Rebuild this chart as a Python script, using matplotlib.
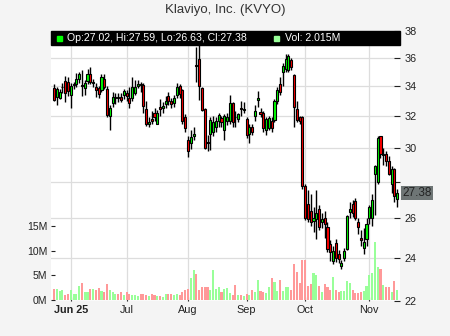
#!/usr/bin/env python3

import matplotlib
matplotlib.use('Agg')
import matplotlib.pyplot as plt
import matplotlib.ticker
import matplotlib.transforms
from matplotlib.patches import Rectangle

TITLE = 'Klaviyo, Inc. (KVYO)'

# daily OHLC, 22 May - 17 Nov 2025 (trading days only)
OPEN = [
    33.85, 33.25, 33.2, 33.9, 34.35, 34.3, 33.4, 34.05, 34.1, 34.45,
    34.05, 33.85, 34.35, 34.85, 34.2, 33.9, 33.85, 33.7, 34.5, 33.8,
    32.0, 32.85, 33.2, 33.25, 33.25, 33.4, 33.5, 33.2, 33.2, 33.55,
    34.0, 34.15, 34.05, 32.45, 31.45, 31.8, 32.2, 31.5, 32.55, 32.5,
    32.75, 33.3, 32.95, 32.85, 33.35, 34.0, 33.7, 31.95, 30.5, 30.3,
    30.75, 35.5, 35.9, 33.85, 32.45, 30.35, 30.85, 30.95, 31.3, 31.65,
    31.85, 31.1, 31.7, 31.65, 32.85, 31.95, 31.8, 32.5, 32.4, 31.8,
    30.85, 31.3, 32.0, 33.05, 32.25, 32.2, 31.1, 31.25, 31.7, 31.75,
    33.0, 34.1, 35.0, 35.2, 35.1, 35.85, 34.75, 32.45, 31.95, 31.9,
    27.75, 26.75, 26.4, 25.85, 25.95, 26.5, 25.8, 26.0, 25.55, 24.7,
    23.85, 24.75, 24.2, 23.6, 24.0, 24.45, 26.35, 26.8, 26.95, 25.8,
    25.0, 24.5, 24.95, 26.05, 26.05, 28.45, 28.0, 30.7, 29.55, 29.6,
    29.2, 27.9, 28.75, 27.02]

HIGH = [
    34.1, 33.95, 33.8, 34.2, 34.7, 34.6, 34.2, 34.3, 34.9, 35.0,
    35.1, 34.4, 35.2, 35.3, 34.5, 34.2, 34.0, 34.8, 34.8, 34.0,
    32.7, 33.6, 33.5, 33.5, 33.5, 33.8, 33.7, 33.95, 34.65, 34.4,
    34.4, 34.3, 34.2, 33.0, 31.9, 32.3, 32.5, 32.4, 33.1, 32.9,
    33.3, 33.6, 33.2, 33.4, 34.2, 34.1, 33.8, 32.1, 30.7, 31.1,
    31.3, 36.8, 37.0, 33.9, 32.5, 30.8, 31.9, 32.0, 31.9, 32.2,
    32.0, 32.1, 32.2, 33.4, 32.9, 32.3, 32.2, 33.0, 32.9, 31.9,
    31.5, 31.5, 32.7, 33.65, 32.5, 32.3, 31.9, 32.0, 31.9, 33.1,
    33.9, 34.6, 35.6, 36.3, 36.3, 36.0, 34.8, 33.0, 32.0, 32.0,
    27.9, 27.55, 27.3, 26.6, 27.55, 26.7, 26.3, 26.4, 25.8, 24.9,
    24.6, 24.95, 24.4, 23.9, 24.5, 26.2, 26.9, 27.0, 27.1, 26.0,
    25.4, 25.5, 26.0, 26.7, 27.3, 29.0, 30.75, 30.75, 30.0, 29.8,
    29.5, 28.9, 28.8, 27.59]

LOW = [
    33.0, 32.7, 33.1, 33.5, 32.9, 33.3, 32.5, 33.8, 33.9, 34.2,
    33.3, 33.4, 34.1, 34.1, 33.9, 33.25, 33.2, 33.6, 33.8, 31.9,
    31.1, 32.6, 32.8, 32.9, 32.9, 33.1, 33.0, 32.5, 33.0, 33.4,
    33.85, 33.6, 32.2, 31.35, 31.3, 31.5, 31.7, 31.45, 32.0, 32.2,
    32.5, 32.7, 32.5, 32.6, 33.2, 33.2, 31.5, 30.95, 29.45, 29.9,
    30.5, 34.3, 33.05, 32.3, 29.9, 29.8, 29.85, 30.7, 31.0, 31.3,
    31.3, 30.5, 31.4, 31.5, 31.3, 31.3, 31.6, 32.0, 32.2, 30.6,
    30.3, 30.8, 31.7, 32.6, 31.9, 31.0, 30.8, 31.1, 31.0, 31.6,
    32.8, 33.4, 34.0, 35.0, 35.0, 35.1, 31.3, 31.6, 31.5, 27.6,
    25.9, 25.8, 25.6, 25.3, 24.95, 25.4, 25.5, 25.0, 24.3, 23.85,
    23.7, 23.8, 23.75, 23.45, 23.85, 24.4, 26.0, 26.1, 25.9, 25.2,
    24.6, 24.2, 24.6, 25.7, 25.6, 26.2, 27.9, 29.4, 29.0, 28.9,
    28.4, 27.4, 26.9, 26.63]

CLOSE = [
    33.05, 33.8, 33.6, 33.95, 33.55, 33.65, 34.0, 34.1, 34.45, 34.85,
    34.0, 34.2, 34.85, 34.25, 34.3, 33.7, 33.45, 34.6, 33.95, 32.05,
    32.5, 33.25, 33.25, 33.2, 33.05, 33.65, 33.3, 32.85, 33.95, 33.95,
    34.1, 34.05, 32.65, 31.45, 31.6, 31.65, 31.9, 32.2, 32.45, 32.65,
    32.95, 33.0, 32.75, 33.15, 33.95, 33.45, 31.65, 31.2, 29.8, 30.65,
    30.85, 35.4, 34.0, 32.4, 30.0, 30.3, 31.75, 31.6, 31.7, 32.05,
    31.6, 32.0, 31.95, 32.85, 31.6, 31.9, 32.1, 32.45, 32.45, 30.8,
    31.3, 31.0, 32.3, 33.2, 32.15, 31.25, 31.8, 31.85, 31.2, 33.0,
    33.7, 33.6, 35.4, 35.9, 36.1, 35.3, 32.6, 31.75, 31.65, 27.75,
    26.0, 25.95, 25.8, 26.0, 26.3, 25.55, 25.95, 25.7, 24.45, 24.3,
    24.35, 24.0, 23.95, 23.75, 24.35, 26.15, 26.5, 26.3, 26.05, 25.55,
    24.9, 24.8, 25.7, 26.6, 27.0, 28.9, 30.6, 29.6, 29.6, 29.2,
    28.45, 28.75, 27.2, 27.38]

# volume in millions of shares
VOLUME_M = [
    2.2, 2.2, 1.8, 2.0, 1.0, 1.3, 2.0, 1.3, 1.2, 2.8,
    3.4, 1.6, 1.6, 2.2, 2.2, 2.1, 2.5, 1.8, 1.6, 3.2,
    2.0, 1.6, 1.2, 1.2, 1.7, 1.0, 1.7, 1.3, 1.0, 1.0,
    0.9, 1.2, 1.2, 1.0, 0.9, 1.3, 1.0, 0.8, 0.9, 0.7,
    1.2, 1.3, 1.2, 1.0, 1.3, 1.0, 1.7, 2.1, 2.3, 4.5,
    6.1, 5.3, 2.0, 2.7, 2.7, 2.7, 2.0, 6.1, 2.3, 2.7,
    1.7, 2.3, 2.5, 1.5, 1.0, 3.0, 1.0, 1.0, 0.9, 1.3,
    1.0, 2.0, 1.7, 4.1, 1.9, 1.7, 1.5, 2.7, 4.5, 3.7,
    1.9, 4.1, 1.9, 2.7, 2.7, 2.0, 7.2, 5.7, 3.5, 8.0,
    8.0, 2.8, 3.3, 5.5, 5.0, 2.8, 1.7, 3.3, 2.7, 2.0,
    4.7, 2.0, 1.7, 1.9, 1.9, 3.9, 3.5, 2.1, 1.5, 1.5,
    1.7, 1.9, 2.8, 5.0, 5.5, 11.8, 6.7, 6.3, 3.0, 2.7,
    2.7, 1.7, 3.9, 2.015]

# first trading day of each month, as index into the series
MONTH_TICKS = [6, 26, 48, 69, 90, 113]
MONTH_LABELS = ['Jun 25', 'Jul', 'Aug', 'Sep', 'Oct', 'Nov']
PRICE_TICKS = [22, 24, 26, 28, 30, 32, 34, 36, 38]
VOLUME_TICKS = [0, 5, 10, 15]

UP = '#00ff00'
DOWN = '#ff0000'
UP_VOL = '#99ff99'
DOWN_VOL = '#ff9999'
BG = '#f4f4f4'
TEXT = '#222222'

W, H = 450, 336
LEFT, RIGHT, TOP, BOTTOM = 51, 400, 31, 301


def draw_candles(ax, x, up):
    ax.vlines(x, LOW, HIGH, color='k', lw=1.0, zorder=3)
    bottoms = [min(o, c) for o, c in zip(OPEN, CLOSE)]
    heights = [max(abs(c - o), 0.03) for o, c in zip(OPEN, CLOSE)]
    ax.bar(x, heights, bottom=bottoms, width=0.75,
           color=[UP if u else DOWN for u in up],
           edgecolor='k', linewidth=0.8, zorder=4)


def draw_volume(ax, x, up):
    ax.bar(x, VOLUME_M, width=0.75,
           color=[UP_VOL if u else DOWN_VOL for u in up], zorder=2)


def draw_info_bar(ax):
    pw = RIGHT - LEFT
    ph = BOTTOM - TOP
    ax.add_patch(Rectangle((0, 1 - 14 / ph), 1, 14 / ph, transform=ax.transAxes,
                           color='black', zorder=10, clip_on=False))
    ymid = 1 - 7 / ph
    ax.add_patch(Rectangle((6 / pw, ymid - 2.5 / ph), 5 / pw, 5 / ph,
                           transform=ax.transAxes, color=UP, zorder=11))
    ax.text(16 / pw, ymid, f'Op:{OPEN[-1]:.2f}, Hi:{HIGH[-1]:.2f}, '
            f'Lo:{LOW[-1]:.2f}, Cl:{CLOSE[-1]:.2f}',
            transform=ax.transAxes, color='white', fontsize=7.6,
            va='center', ha='left', zorder=12)
    ax.add_patch(Rectangle((223 / pw, ymid - 2.5 / ph), 5 / pw, 5 / ph,
                           transform=ax.transAxes, color=UP_VOL, zorder=11))
    ax.text(234 / pw, ymid, f'Vol: {VOLUME_M[-1]:.3f}M',
            transform=ax.transAxes, color='white', fontsize=7.6,
            va='center', ha='left', zorder=12)


def main():
    plt.rcParams['font.family'] = ['Liberation Sans', 'DejaVu Sans']

    x = list(range(len(CLOSE)))
    up = [c >= o for o, c in zip(OPEN, CLOSE)]

    fig = plt.figure(figsize=(W / 100, H / 100), dpi=100, facecolor=BG)
    ax = fig.add_axes([LEFT / W, 1 - BOTTOM / H, (RIGHT - LEFT) / W, (BOTTOM - TOP) / H])
    ax.set_facecolor('white')

    fig.text(0.5, 1 - 10.5 / H, TITLE, ha='center', va='center',
             fontsize=9.5, color='#333333')

    # price axis (right, log scale)
    ax.set_yscale('log')
    draw_candles(ax, x, up)
    ax.set_ylim(22, 38)
    ax.set_xlim(-1.1, 124.0)

    ax_vol = ax.twinx()
    draw_volume(ax_vol, x, up)
    ax_vol.set_ylim(-0.2, 54.4)

    ax.yaxis.tick_right()
    ax_vol.yaxis.tick_left()

    ax.yaxis.set_major_locator(matplotlib.ticker.FixedLocator(PRICE_TICKS))
    ax.yaxis.set_minor_locator(matplotlib.ticker.NullLocator())
    ax.yaxis.set_major_formatter(matplotlib.ticker.FuncFormatter(
        lambda v, p: '' if round(v) == 28 else f'{v:.0f}'))
    ax.tick_params(axis='y', which='both', direction='in', length=4, pad=3,
                   labelsize=7.8, colors=TEXT, left=False, labelleft=False,
                   right=True, labelright=True)

    ax.set_xticks(MONTH_TICKS, MONTH_LABELS)
    ax.tick_params(axis='x', direction='in', length=3, pad=3, labelsize=7.8,
                   colors=TEXT)
    ax.get_xticklabels()[0].set_fontweight('bold')

    ax_vol.set_yticks(VOLUME_TICKS, [f'{v}M' for v in VOLUME_TICKS])
    ax_vol.tick_params(axis='y', direction='in', length=3, pad=2.5,
                       labelsize=7.5, colors=TEXT, left=True, labelleft=True,
                       right=False, labelright=False)

    ax.grid(True, color='#dddddd', lw=0.9)
    ax.set_axisbelow(True)
    for a in (ax, ax_vol):
        for s in a.spines.values():
            s.set_visible(False)

    # last price tag on the right axis
    trans = matplotlib.transforms.blended_transform_factory(ax.transAxes, ax.transData)
    ax.text(1.006, CLOSE[-1], f'{CLOSE[-1]:.2f}', transform=trans,
            ha='left', va='center', fontsize=8.5, color=TEXT, clip_on=False,
            bbox=dict(boxstyle='square,pad=0.12', fc='#6e7575', ec='none'))

    draw_info_bar(ax_vol)

    fig.savefig('out.png', dpi=100, facecolor=fig.get_facecolor())


if __name__ == '__main__':
    main()
